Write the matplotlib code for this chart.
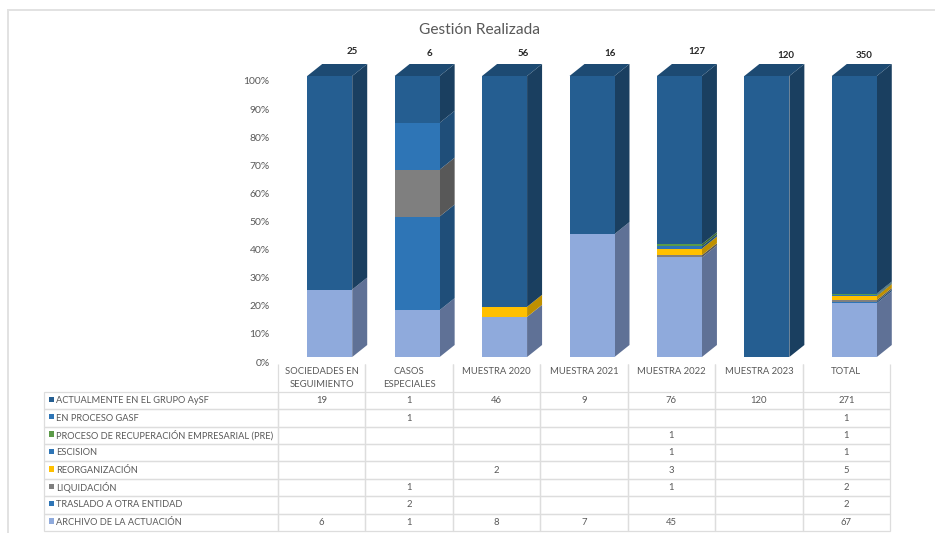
import matplotlib
matplotlib.use("Agg")
import matplotlib.pyplot as plt
from matplotlib.patches import Polygon, Rectangle
from matplotlib.transforms import ScaledTranslation
import numpy as np

plt.rcParams['font.family'] = ['Lato', 'DejaVu Sans']

W, H = 935, 533

categorias = ["SOCIEDADES EN\nSEGUIMIENTO", "CASOS\nESPECIALES", "MUESTRA 2020", "MUESTRA 2021",
              "MUESTRA 2022", "MUESTRA 2023", "TOTAL"]
etiquetas = ["ACTUALMENTE EN EL GRUPO AySF", "EN PROCESO GASF",
             "PROCESO DE RECUPERACIÓN EMPRESARIAL (PRE)", "ESCISION", "REORGANIZACIÓN",
             "LIQUIDACIÓN", "TRASLADO A OTRA ENTIDAD", "ARCHIVO DE LA ACTUACIÓN"]

# valores por fila de la tabla (0 = celda vacia)
actualmente = [19, 1, 46, 9, 76, 120, 271]
en_proceso = [0, 1, 0, 0, 0, 0, 1]
pre = [0, 0, 0, 0, 1, 0, 1]
escision = [0, 0, 0, 0, 1, 0, 1]
reorganizacion = [0, 0, 2, 0, 3, 0, 5]
liquidacion = [0, 1, 0, 0, 1, 0, 2]
traslado = [0, 2, 0, 0, 0, 0, 2]
archivo = [6, 1, 8, 7, 45, 0, 67]
totales = [25, 6, 56, 16, 127, 120, 350]

filas = [actualmente, en_proceso, pre, escision, reorganizacion, liquidacion, traslado, archivo]
color_frente = ["#255E91", "#2E75B6", "#5B9A48", "#2E75B6", "#FFC000", "#7F7F7F", "#2E75B6", "#8FAADC"]
color_lado = ["#1A3F60", "#1F4E79", "#3C6A30", "#1F4E79", "#BF9000", "#585858", "#1F4E79", "#5F7196"]
color_tapa = "#1D4A72"

fig = plt.figure(figsize=(W / 100, H / 100), dpi=100)

# marco de la captura
fondo = fig.add_axes([0, 0, 1, 1])
fondo.set_xlim(0, W)
fondo.set_ylim(H, 0)
fondo.axis("off")
fondo.plot([8, 8], [10, H], color="#E2E2E2", lw=1.4)
fondo.plot([8, W], [10, 10], color="#E2E2E2", lw=1.4)

# eje principal: mismo ancho que las columnas de la tabla
x0, x1, y_top, y_base = 278, 890, 76, 357
ax = fig.add_axes([x0 / W, 1 - y_base / H, (x1 - x0) / W, (y_base - y_top) / H])
ax.set_xlim(-0.5, 6.5)
ax.set_ylim(0, 1)
ax.patch.set_alpha(0)

px_x = 7 / (x1 - x0)
px_y = 1 / (y_base - y_top)
ancho = 45 * px_x
dx, dy = 15 * px_x, 12 * px_y
x = np.arange(len(categorias)) + 8 * px_x

total_col = np.array(totales, dtype=float)
base = np.zeros(len(categorias))
for i in range(len(filas) - 1, -1, -1):
    frac = np.array(filas[i]) / total_col
    ax.bar(x, frac, ancho, bottom=base, color=color_frente[i], linewidth=0, zorder=3)
    for xi, b, f in zip(x, base, frac):
        if f > 0:
            r = xi + ancho / 2
            ax.add_patch(Polygon([(r, b), (r + dx, b + dy), (r + dx, b + f + dy), (r, b + f)],
                                 closed=True, fc=color_lado[i], lw=0, clip_on=False, zorder=2))
    base += frac
for xi in x:
    l, r = xi - ancho / 2, xi + ancho / 2
    ax.add_patch(Polygon([(l, 1), (r, 1), (r + dx, 1 + dy), (l + dx, 1 + dy)],
                         closed=True, fc=color_tapa, lw=0, clip_on=False, zorder=2))

ax.set_yticks(np.arange(0, 1.01, 0.1))
ax.set_yticklabels([f"{v}%" for v in range(0, 101, 10)], fontsize=7.5, color="#595959")
ax.tick_params(axis="y", length=0, pad=6)
# en la captura las etiquetas del eje quedan unos pixeles por debajo
bajar = ScaledTranslation(0, -5 / 100, fig.dpi_scale_trans)
for lab in ax.get_yticklabels():
    lab.set_transform(lab.get_transform() + bajar)
ax.set_xticks([])
for s in ax.spines.values():
    s.set_visible(False)

# totales encima de cada barra
ajuste_x = [22.5, 12, 18.5, 18, 17.5, 19, 9.5]
ajuste_y = [24, 23, 23, 23, 24, 21, 21]
for xi, t, ax_, ay_ in zip(x, totales, ajuste_x, ajuste_y):
    ax.annotate(str(t), (xi, 1), xytext=(ax_ * 0.72, ay_ * 0.72), textcoords="offset points",
                ha="center", va="center", fontsize=7, fontweight="bold", color="#262626")

fig.text(479.5 / W, 1 - 30 / H, "Gestión Realizada", ha="center", va="center", fontsize=11.2, color="#595959")

# tabla de datos
encabezado = [c if "\n" in c else c + "\n " for c in categorias]
celdas = [[""] + encabezado]
for nombre, fila in zip(etiquetas, filas):
    celdas.append([nombre] + [str(v) if v else "" for v in fila])
tx0, tx1, ty0, ty1 = 44, 890, 364, 531
anchos = [(278 - 44) / (tx1 - tx0)] + [(890 - 278) / 7 / (tx1 - tx0)] * 7
caja = [(tx0 - x0) / (x1 - x0), (y_base - ty1) / (y_base - y_top),
        (tx1 - tx0) / (x1 - x0), (ty1 - ty0) / (y_base - y_top)]
tabla = ax.table(cellText=celdas, colWidths=anchos, bbox=caja, cellLoc="center")
tabla.auto_set_font_size(False)
for (r, c), cell in tabla.get_celld().items():
    cell.set_height(28 if r == 0 else 17.4)
    cell.set_edgecolor("#DDDDDD")
    cell.set_linewidth(0.9)
    cell.set_facecolor("none")
    cell.get_text().set_fontsize(6.8)
    cell.get_text().set_color("#595959")
    if r == 0:
        cell.visible_edges = "" if c == 0 else "LR"
        cell.get_text().set_linespacing(1.45)
    if c == 0 and r > 0:
        cell.PAD = 0.05
        cell.get_text().set_ha("left")
        cell.get_text().set_fontsize(6.65)

# cuadritos de la leyenda
for i in range(len(etiquetas)):
    fondo.add_patch(Rectangle((49, 396.5 + i * 17.4), 4.5, 5.5, fc=color_frente[i], lw=0))

fig.savefig("out.png", dpi=100)
